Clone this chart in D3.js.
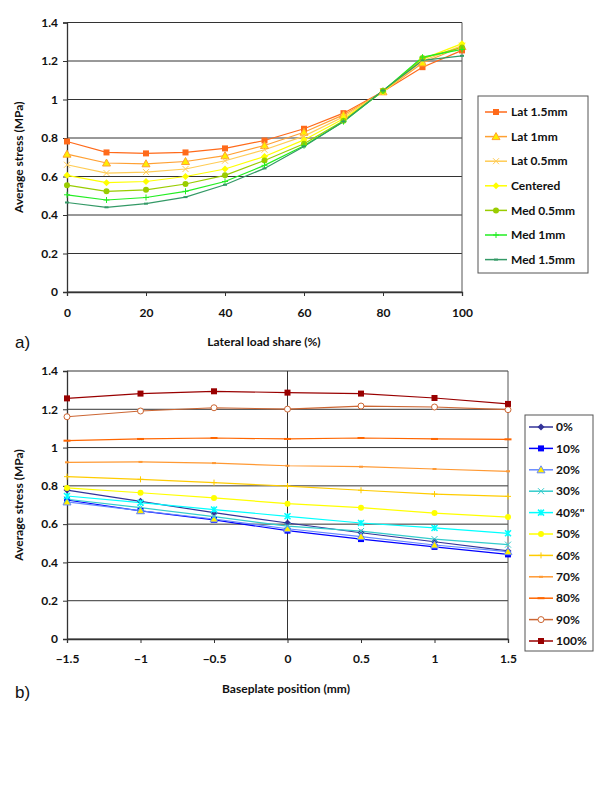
<!DOCTYPE html>
<html><head><meta charset="utf-8">
<script src="https://cdn.jsdelivr.net/npm/d3@7"></script>
<style>
body{margin:0;background:#fff;}
svg text{font-family:Lato,"DejaVu Sans",sans-serif;font-weight:bold;fill:#111;}
</style></head>
<body><svg id="c" width="600" height="800"></svg>
<script>
// ---- Chart a data ----
const loadShare = [0,10,20,30,40,50,60,70,80,90,100];
const seriesA = ["Lat 1.5mm","Lat 1mm","Lat 0.5mm","Centered","Med 0.5mm","Med 1mm","Med 1.5mm"];
const lat15 = [0.782,0.725,0.720,0.725,0.746,0.787,0.848,0.929,1.042,1.168,1.255];
const lat10 = [0.716,0.670,0.666,0.678,0.708,0.761,0.830,0.920,1.040,1.190,1.275];
const lat05 = [0.661,0.618,0.623,0.639,0.682,0.739,0.810,0.910,1.040,1.200,1.280];
const centered = [0.606,0.568,0.574,0.600,0.639,0.704,0.790,0.900,1.040,1.210,1.290];
const med05 = [0.555,0.523,0.531,0.561,0.606,0.683,0.770,0.890,1.045,1.215,1.270];
const med10 = [0.505,0.478,0.491,0.523,0.574,0.658,0.760,0.885,1.045,1.220,1.260];
const med15 = [0.465,0.440,0.459,0.493,0.557,0.642,0.756,0.886,1.047,1.203,1.227];
const colorsA = ["#ff6a1a","#ffa033","#ffcc55","#ffff00","#99cc00","#22ee22","#339966"];
const markersA = ["square","triangle","x","diamond","circle","plus","dash"];
const yTicksA = [0,0.2,0.4,0.6,0.8,1,1.2,1.4];
const xTicksA = [0,20,40,60,80,100];

// ---- Chart b data ----
const basePos = [-1.5,-1,-0.5,0,0.5,1,1.5];
const seriesB = ["0%","10%","20%","30%","40%\"","50%","60%","70%","80%","90%","100%"];
const s0 = [0.778,0.719,0.660,0.606,0.555,0.508,0.460];
const s10 = [0.726,0.669,0.622,0.566,0.522,0.481,0.442];
const s20 = [0.716,0.670,0.627,0.576,0.535,0.491,0.456];
const s30 = [0.730,0.686,0.639,0.590,0.564,0.522,0.493];
const s40 = [0.747,0.712,0.676,0.641,0.606,0.580,0.552];
const s50 = [0.789,0.764,0.737,0.707,0.686,0.658,0.637];
const s60 = [0.848,0.834,0.817,0.799,0.777,0.757,0.745];
const s70 = [0.923,0.925,0.919,0.905,0.900,0.888,0.876];
const s80 = [1.036,1.045,1.050,1.045,1.050,1.045,1.043];
const s90 = [1.161,1.191,1.208,1.201,1.217,1.212,1.198];
const s100 = [1.257,1.282,1.294,1.287,1.282,1.259,1.228];
const colorsB = ["#333399","#0000ff","#6688ff","#33cccc","#00ffff","#ffff00","#ffcc00","#ff9933","#ff6600","#cc6633","#990000"];
const markersB = ["diamond","square","triangle","x","star","circle","plus","dash","longdash","ocircle","square"];
const yTicksB = [0,0.2,0.4,0.6,0.8,1,1.2,1.4];
const xTicksB = [-1.5,-1,-0.5,0,0.5,1,1.5];

const svg = d3.select("#c");

function marker(g, type, x, y, color){
  const s = 3;
  if(type==="square") g.append("rect").attr("x",x-s).attr("y",y-s).attr("width",2*s).attr("height",2*s).attr("fill",color);
  else if(type==="triangle") g.append("path").attr("d",`M${x},${y-4}L${x+4},${y+3}L${x-4},${y+3}Z`).attr("fill","#ffee00").attr("stroke",color).attr("stroke-width",1);
  else if(type==="x") g.append("path").attr("d",`M${x-3},${y-3}L${x+3},${y+3}M${x-3},${y+3}L${x+3},${y-3}`).attr("stroke",color).attr("stroke-width",1);
  else if(type==="star") g.append("path").attr("d",`M${x-3},${y-3}L${x+3},${y+3}M${x-3},${y+3}L${x+3},${y-3}M${x},${y-3}L${x},${y+3}`).attr("stroke",color).attr("stroke-width",1.5);
  else if(type==="diamond") g.append("path").attr("d",`M${x},${y-3.5}L${x+3.5},${y}L${x},${y+3.5}L${x-3.5},${y}Z`).attr("fill",color);
  else if(type==="circle") g.append("circle").attr("cx",x).attr("cy",y).attr("r",3).attr("fill",color);
  else if(type==="ocircle") g.append("circle").attr("cx",x).attr("cy",y).attr("r",3).attr("fill","#fff").attr("stroke",color).attr("stroke-width",1);
  else if(type==="plus") g.append("path").attr("d",`M${x-3},${y}L${x+3},${y}M${x},${y-3}L${x},${y+3}`).attr("stroke",color).attr("stroke-width",1);
  else if(type==="dash") g.append("path").attr("d",`M${x-2},${y}L${x+2},${y}`).attr("stroke",color).attr("stroke-width",2);
  else if(type==="longdash") g.append("path").attr("d",`M${x-3.5},${y}L${x+3.5},${y}`).attr("stroke",color).attr("stroke-width",2);
}

function drawChart(cfg){
  const x = d3.scaleLinear().domain(cfg.xDomain).range([cfg.left,cfg.right]);
  const y = d3.scaleLinear().domain([0,1.4]).range([cfg.bottom,cfg.top]);
  const g = svg.append("g");
  // gridlines
  g.selectAll(".grid").data(cfg.yTicks).join("line")
    .attr("x1",cfg.left).attr("x2",cfg.right)
    .attr("y1",d=>y(d)).attr("y2",d=>y(d))
    .attr("stroke","#333").attr("stroke-width",1);
  // right border
  g.append("line").attr("x1",cfg.right).attr("x2",cfg.right).attr("y1",cfg.top).attr("y2",cfg.bottom).attr("stroke","#555").attr("stroke-width",1);
  if(cfg.zeroLine){
    g.append("line").attr("x1",x(0)).attr("x2",x(0)).attr("y1",cfg.top).attr("y2",cfg.bottom).attr("stroke","#333").attr("stroke-width",1);
  }
  // axes
  const yAxis = d3.axisLeft(y).tickValues(cfg.yTicks).tickSize(4).tickFormat(d=>d3.format("~g")(d));
  const ya = g.append("g").attr("transform",`translate(${cfg.left},0)`).call(yAxis);
  const xAxis = d3.axisBottom(x).tickValues(cfg.xTicks).tickSize(4).tickFormat(d=>d3.format("~g")(d));
  const xa = g.append("g").attr("transform",`translate(0,${cfg.bottom})`).call(xAxis);
  [ya,xa].forEach(a=>{
    a.select(".domain").attr("stroke","#333").attr("stroke-width",1.3);
    a.selectAll(".tick line").attr("stroke","#333");
    a.selectAll(".tick text").attr("font-size",12).attr("fill","#111").style("font-family","Lato, sans-serif").style("font-weight","bold");
  });
  ya.selectAll(".tick text").attr("x",-9);
  xa.selectAll(".tick text").attr("y",cfg.xTickDy);
  // series
  const line = d3.line().x((d,i)=>x(cfg.xs[i])).y(d=>y(d));
  cfg.data.forEach((vals,k)=>{
    g.append("path").attr("d",line(vals)).attr("fill","none").attr("stroke",cfg.colors[k]).attr("stroke-width",1.2);
  });
  cfg.data.forEach((vals,k)=>{
    const mg = g.append("g");
    vals.forEach((v,i)=>marker(mg,cfg.markers[k],x(cfg.xs[i]),y(v),cfg.colors[k]));
  });
  // axis titles
  g.append("text").attr("transform",`translate(${cfg.yTitleX},${(cfg.top+cfg.bottom)/2}) rotate(-90)`)
    .attr("text-anchor","middle").attr("font-size",12).text("Average stress (MPa)");
  g.append("text").attr("x",cfg.xTitleX).attr("y",cfg.xTitleY).attr("text-anchor","middle").attr("font-size",12).text(cfg.xTitle);
  g.append("text").attr("x",15).attr("y",cfg.panelY).attr("font-size",17).style("font-family","Arial, Liberation Sans, sans-serif").style("font-weight","normal").text(cfg.panel);
  // legend
  const L = cfg.legend;
  g.append("rect").attr("x",L.x).attr("y",L.y).attr("width",L.w).attr("height",L.h).attr("fill","#fff").attr("stroke","#555").attr("stroke-width",1);
  cfg.names.forEach((n,k)=>{
    const yy = L.first + k*L.step;
    g.append("line").attr("x1",L.lx1).attr("x2",L.lx2).attr("y1",yy).attr("y2",yy).attr("stroke",cfg.colors[k]).attr("stroke-width",1.5);
    marker(g,cfg.markers[k],(L.lx1+L.lx2)/2,yy,cfg.colors[k]);
    g.append("text").attr("x",L.tx).attr("y",yy).attr("dy","0.35em").attr("font-size",12).text(n);
  });
}

drawChart({
  xDomain:[0,100], left:67, right:462, top:22.5, bottom:292,
  xs:loadShare, data:[lat15,lat10,lat05,centered,med05,med10,med15],
  colors:colorsA, markers:markersA, names:seriesA,
  yTicks:yTicksA, xTicks:xTicksA, xTickDy:16, zeroLine:false,
  yTitleX:23, xTitle:"Lateral load share (%)", xTitleX:264, xTitleY:346,
  panel:"a)", panelY:348,
  legend:{x:478,y:96,w:110,h:177,first:112,step:24.6,lx1:485,lx2:507,tx:511}
});
drawChart({
  xDomain:[-1.5,1.5], left:67, right:508, top:371, bottom:639,
  xs:basePos, data:[s0,s10,s20,s30,s40,s50,s60,s70,s80,s90,s100],
  colors:colorsB, markers:markersB, names:seriesB,
  yTicks:yTicksB, xTicks:xTicksB, xTickDy:15, zeroLine:true,
  yTitleX:23, xTitle:"Baseplate position (mm)", xTitleX:286, xTitleY:693,
  panel:"b)", panelY:698,
  legend:{x:525,y:415,w:68,h:236,first:427,step:21.4,lx1:529,lx2:553,tx:556}
});
</script></body></html>
